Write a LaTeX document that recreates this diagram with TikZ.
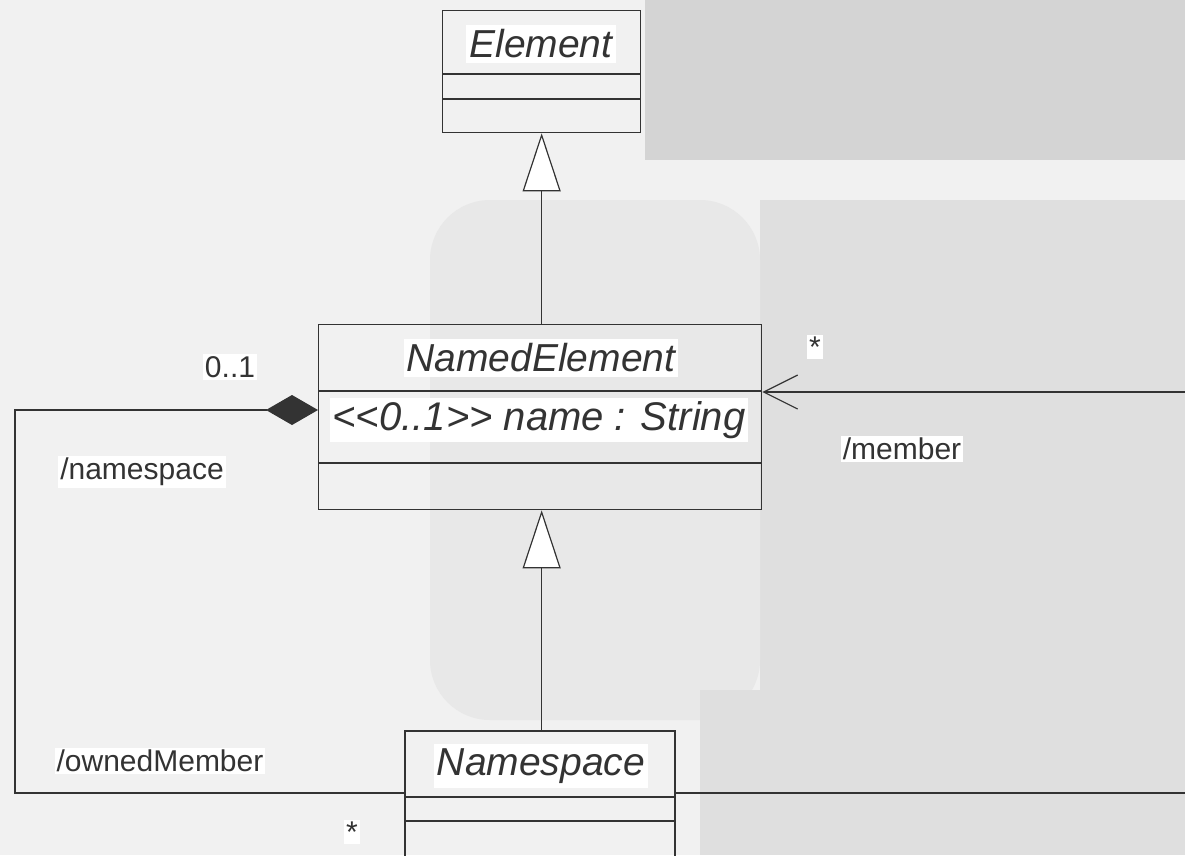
\documentclass[tikz,border=0pt]{standalone}
\usepackage{fontspec}
\setmainfont{Liberation Sans}
\usetikzlibrary{arrows.meta}
\definecolor{ln}{HTML}{333333}
\definecolor{bgA}{HTML}{F1F1F1}
\definecolor{bgB}{HTML}{D4D4D4}
\definecolor{bgC}{HTML}{DFDFDF}
\definecolor{bgD}{HTML}{E8E8E8}
\begin{document}
\begin{tikzpicture}[x=1pt,y=-1pt,
  classbox/.style={draw=ln,line width=1.3pt,anchor=north west,inner sep=0pt},
  sep/.style={draw=ln,line width=1.3pt},
  cname/.style={fill=white,inner xsep=3pt,inner ysep=5pt,font=\fontsize{39}{40}\selectfont\itshape,text=ln},
  lbl/.style={fill=white,inner sep=2pt,font=\fontsize{30}{32}\selectfont,text=ln},
  conn/.style={draw=ln,line width=1.2pt},
  gen/.style={conn,-{Triangle[open,length=58pt,width=38pt,fill=white]}},
  comp/.style={conn,{Diamond[length=52pt,width=30pt,fill=ln]}-},
  nav/.style={conn,-{Straight Barb[length=34pt,width=34pt,line width=1.2pt]}}]
\useasboundingbox (0,0) rectangle (1185,855);
% background
\fill[bgA] (0,0) rectangle (1185,855);
\fill[bgB] (645,0) rectangle (1185,160);
\fill[bgC] (760,200) rectangle (1185,700);
\fill[bgD, rounded corners=60pt] (430,200) rectangle (760,720);
\fill[bgC] (700,690) rectangle (1185,855);
% classes
\node[classbox,minimum width=198pt,minimum height=122pt] (elem) at (442,10) {};
\draw[sep] (442,74) -- (640,74) (442,99) -- (640,99);
\node[cname] (elemN) at (541,44) {Element};

\node[classbox,minimum width=443pt,minimum height=185pt] (ne) at (318,324) {};
\draw[sep] (318,391) -- (761,391) (318,463) -- (761,463);
\node[cname] (neN) at (541,358) {NamedElement};
\node[cname,font=\fontsize{40}{41}\selectfont\itshape,inner ysep=3pt] (neA) at (539,420) {<{}<0..1>{}> name : String};

\begin{scope}
\clip (0,0) rectangle (1185,855);
\draw[sep] (405,860) -- (405,731) -- (675,731) -- (675,860);
\node[inner sep=0pt,minimum width=270pt,minimum height=128pt,anchor=north west] (ns) at (405,731) {};
\draw[sep] (405,797) -- (675,797) (405,821) -- (675,821);
\end{scope}
\node[cname] (nsN) at (541,766) {Namespace};

% generalizations
\draw[gen] (ne.north -| elem.south) -- (elem.south);
\draw[gen] (ns.north -| elem.south) -- (ne.south -| elem.south);

% composition namespace / ownedMember
\coordinate (cA) at (15,410);
\coordinate (cB) at (15,793);
\draw[comp] (ne.west |- cA) -- (cA) -- (cB) -- (ns.west |- cB);

% member association
\coordinate (mR) at (1186,392);
\coordinate (nR) at (1186,793);
\draw[nav] (mR) -- (ne.east |- mR);
\draw[conn] (ns.east |- nR) -- (nR);

% labels
\node[lbl] (l01) at (230,367) {0..1};
\node[lbl] (lns) at (142,472) {/namespace};
\node[lbl] (low) at (160,761) {/ownedMember};
\node[lbl] (ls1) at (352,832) {*};
\node[lbl] (ls2) at (815,347) {*};
\node[lbl] (lmem) at (902,449) {/member};
\end{tikzpicture}
\end{document}
